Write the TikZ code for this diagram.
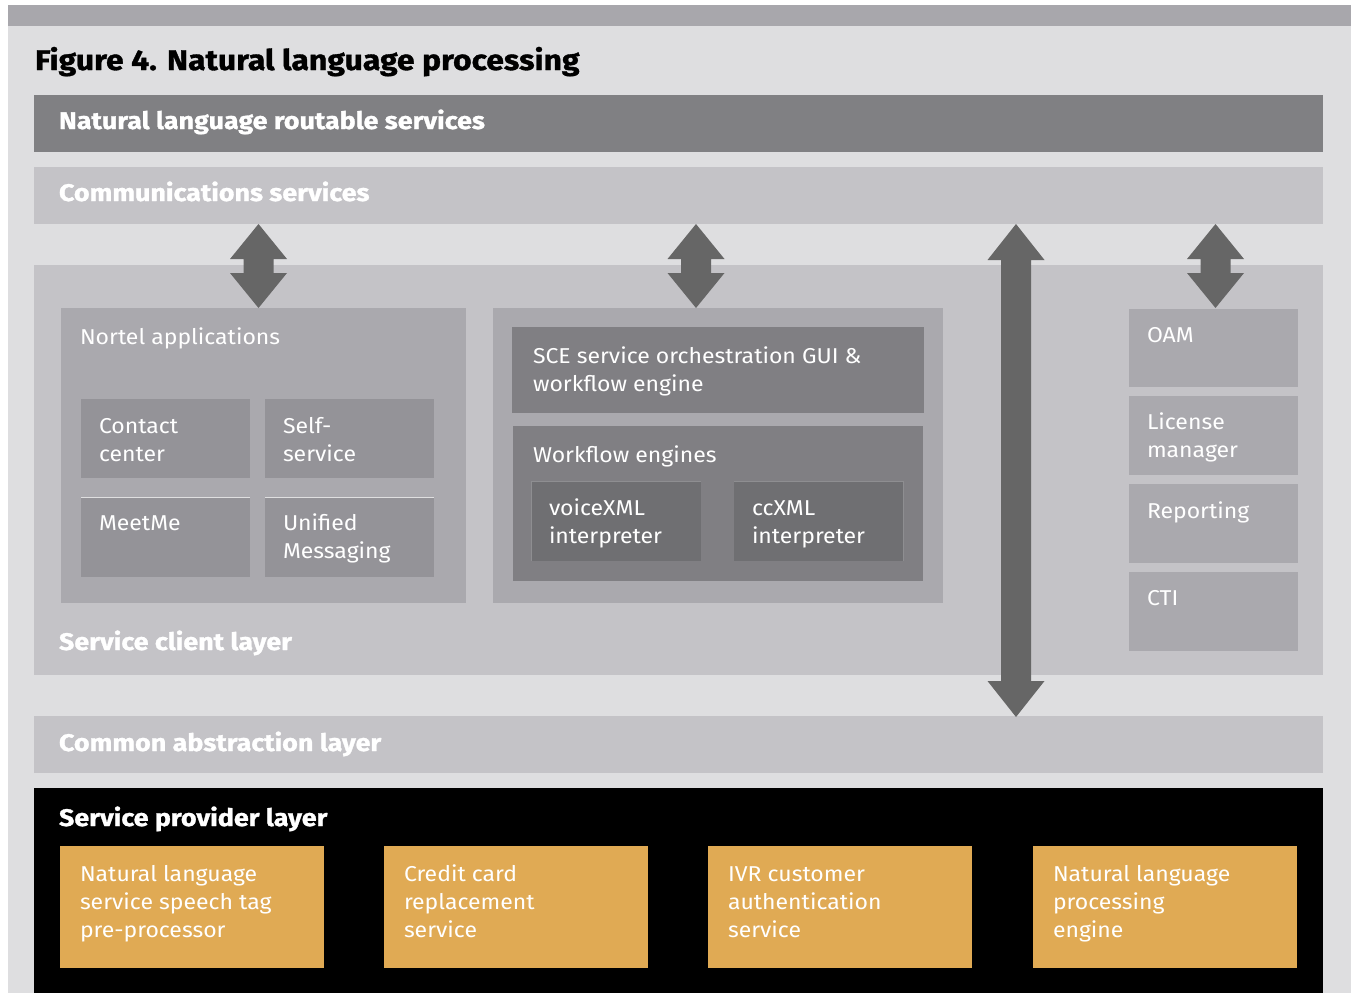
\documentclass[tikz,border=0pt]{standalone}
\usepackage{fontspec}
\setmainfont{Fira Sans}[UprightFeatures={FakeStretch=1.07}, BoldFeatures={FakeStretch=1.12, FakeBold=1.2}]
\definecolor{bgl}{HTML}{DEDEE0}
\definecolor{band}{HTML}{A8A7AC}
\definecolor{dkbar}{HTML}{808083}
\definecolor{layer}{HTML}{C4C3C7}
\definecolor{midbox}{HTML}{AAA9AE}
\definecolor{appbox}{HTML}{949398}
\definecolor{wfbox}{HTML}{807F83}
\definecolor{xmlbox}{HTML}{6F6F72}
\definecolor{xmledge}{HTML}{8E8E91}
\definecolor{arrowc}{HTML}{666666}
\definecolor{orange}{HTML}{E0AA54}
\newcommand{\tstr}{\rule{0pt}{25pt}}
\newcommand{\rbox}[6]{\node[box, fill=#2, minimum width={#5-#3}, minimum height={#6-#4}] (#1) at ({(#3+#5)/2},{(#4+#6)/2}) {};}
\newcommand{\tlab}[5]{\node[#4, anchor=north west] (#1) at (#2,{#3-25}) {\tstr #5};}
\newcommand{\dblarr}[4]{\fill[arrowc] (#1,#2) -- ({#1+28.5},{#2+#4}) -- ({#1+15},{#2+#4}) -- ({#1+15},{#3-#4}) -- ({#1+28.5},{#3-#4}) -- (#1,#3) -- ({#1-28.5},{#3-#4}) -- ({#1-15},{#3-#4}) -- ({#1-15},{#2+#4}) -- ({#1-28.5},{#2+#4}) -- cycle;}
\begin{document}
\begin{tikzpicture}[x=1pt,y=-1pt,
  box/.style={inner sep=0pt, outer sep=0pt, draw=none, rectangle},
  txt/.style={inner sep=0pt, outer sep=0pt, text=white, align=left, font=\fontsize{21.5}{28}\selectfont},
  head/.style={inner sep=0pt, outer sep=0pt, text=white, align=left, font=\fontsize{24}{28}\selectfont\bfseries},
  ttl/.style={inner sep=0pt, outer sep=0pt, text=black, align=left, font=\fontsize{28.5}{32}\selectfont\bfseries}]
\useasboundingbox (0,0) rectangle (1351,993);
\fill[white] (0,0) rectangle (1351,993);
\fill[bgl] (8,26) rectangle (1351,993);
\fill[band] (8,5) rectangle (1351,26);

\tlab{title}{35}{70}{ttl}{Figure 4. Natural language processing}

% layers
\rbox{nlrs}{dkbar}{34}{95}{1323}{152}
\tlab{nlrst}{59}{129}{head}{Natural language routable services}
\rbox{comm}{layer}{34}{167}{1323}{224}
\tlab{commt}{59}{201}{head}{Communications services}
\rbox{client}{layer}{34}{265}{1323}{675}
\tlab{clientt}{59}{650}{head}{Service client layer}
\rbox{cal}{layer}{34}{716}{1323}{773}
\tlab{calt}{59}{751}{head}{Common abstraction layer}
\rbox{spl}{black}{34}{788}{1323}{993}
\tlab{splt}{59}{826}{head}{Service provider layer}

% Nortel applications
\rbox{nortel}{midbox}{61}{308}{466}{603}
\tlab{nortelt}{80}{344}{txt}{Nortel applications}
\rbox{cc}{appbox}{81}{399}{250}{478}
\tlab{cct}{99}{433}{txt}{Contact\\center}
\rbox{ss}{appbox}{265}{399}{434}{478}
\tlab{sst}{283}{433}{txt}{Self-\\service}
\rbox{mm}{appbox}{81}{497}{250}{577}
\tlab{mmt}{99}{530}{txt}{MeetMe}
\rbox{um}{appbox}{265}{497}{434}{577}
\tlab{umt}{283}{530}{txt}{Unified\\Messaging}
\draw[white!70!appbox, line width=1pt] (mm.north west) -- (mm.north east) (um.north west) -- (um.north east);

% SCE block
\rbox{sceouter}{midbox}{493}{308}{943}{603}
\rbox{sce}{wfbox}{512}{327}{924}{413}
\tlab{scet}{533}{363}{txt}{SCE service orchestration GUI \&\\workflow engine}
\rbox{wf}{wfbox}{513}{426}{923}{581}
\tlab{wft}{533}{462}{txt}{Workflow engines}
\rbox{vxml}{xmlbox}{531}{481}{701}{561}
\draw[xmledge, line width=1pt] (vxml.south west) -- (vxml.north west) -- (vxml.north east);
\tlab{vxmlt}{549}{515}{txt}{voiceXML\\interpreter}
\rbox{ccxml}{xmlbox}{734}{481}{903}{561}
\draw[xmledge, line width=1pt] (ccxml.north west) -- (ccxml.north east) -- (ccxml.south east);
\tlab{ccxmlt}{752}{515}{txt}{ccXML\\interpreter}

% right column
\rbox{oam}{midbox}{1129}{309}{1298}{387}
\tlab{oamt}{1147}{342}{txt}{OAM}
\rbox{lic}{midbox}{1129}{396}{1298}{475}
\tlab{lict}{1147}{429}{txt}{License\\manager}
\rbox{rep}{midbox}{1129}{484}{1298}{563}
\tlab{rept}{1147}{518}{txt}{Reporting}
\rbox{cti}{midbox}{1129}{572}{1298}{651}
\tlab{ctit}{1147}{605}{txt}{CTI}

% service provider boxes
\rbox{sp1}{orange}{60}{846}{324}{968}
\tlab{sp1t}{80}{881}{txt}{Natural language\\service speech tag\\pre-processor}
\rbox{sp2}{orange}{384}{846}{648}{968}
\tlab{sp2t}{404}{881}{txt}{Credit card\\replacement\\service}
\rbox{sp3}{orange}{708}{846}{972}{968}
\tlab{sp3t}{728}{881}{txt}{IVR customer\\authentication\\service}
\rbox{sp4}{orange}{1033}{846}{1297}{968}
\tlab{sp4t}{1053}{881}{txt}{Natural language\\processing\\engine}

% arrows
\dblarr{258.5}{224}{308}{35}
\dblarr{696}{224}{308}{35}
\dblarr{1215.5}{224}{308}{35}
\dblarr{1016}{224}{717}{36}
\end{tikzpicture}
\end{document}
